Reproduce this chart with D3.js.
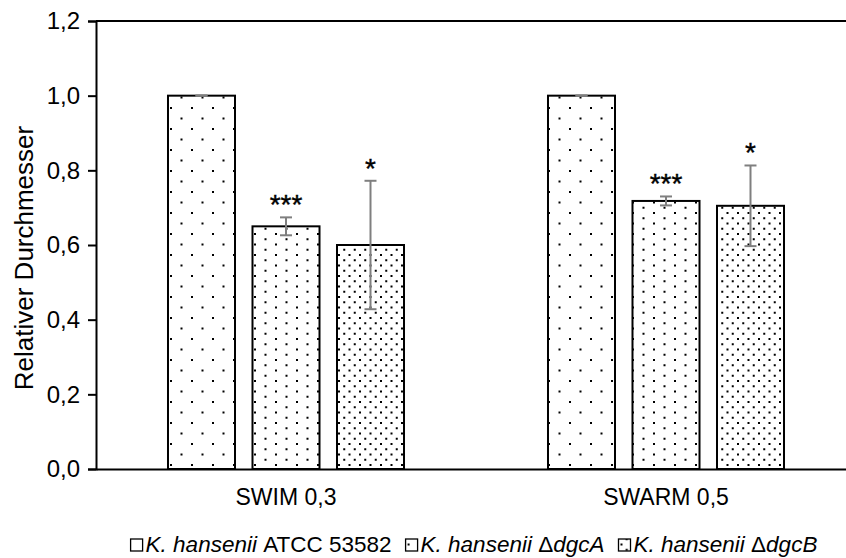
<!DOCTYPE html>
<html>
<head>
<meta charset="utf-8">
<script src="https://cdn.jsdelivr.net/npm/d3@7"></script>
<style>
  html, body { margin: 0; padding: 0; background: #fff; }
  svg { display: block; font-family: "Liberation Sans", Arial, sans-serif; }
</style>
</head>
<body>
<svg id="chart" width="846" height="558"></svg>
<script>
// Relative diameter of swim / swarm zones per strain
const categories = ["SWIM 0,3", "SWARM 0,5"];
const seriesNames = ["ATCC 53582", "ΔdgcA", "ΔdgcB"];
const wildType = [1.0, 1.0];
const dgcA = [0.65, 0.718];
const dgcB = [0.60, 0.705];
const errWildType = [0, 0];
const errDgcA = [0.024, 0.012];
const errDgcB = [0.172, 0.108];
const sigWildType = ["", ""];
const sigDgcA = ["***", "***"];
const sigDgcB = ["*", "*"];
const yTicks = [0, 0.2, 0.4, 0.6, 0.8, 1.0, 1.2];

const seriesValues = [wildType, dgcA, dgcB];
const seriesErr = [errWildType, errDgcA, errDgcB];
const seriesSig = [sigWildType, sigDgcA, sigDgcB];

const svg = d3.select("#chart");
const plotLeft = 96, plotRight = 856, plotTop = 21, plotBottom = 469;

const x0 = d3.scaleBand().domain(categories).range([plotLeft, plotRight]).padding(0);
const x1 = d3.scaleBand().domain(seriesNames).range([0, x0.bandwidth()])
  .paddingInner(0.207).paddingOuter(0.852);
const y = d3.scaleLinear().domain([0, 1.2]).range([plotBottom, plotTop]);

// Fill patterns: sparse, medium and dense dot grids
const defs = svg.append("defs");
const unit = 2.625;
const patternDots = {
  p0: [[0, 0], [4, 4]],
  p1: [[0, 0], [4, 2], [0, 4], [4, 6]],
  p2: [[0, 0], [4, 0], [2, 2], [6, 2], [0, 4], [4, 4], [2, 6], [6, 6]]
};
Object.entries(patternDots).forEach(([id, pts]) => {
  const p = defs.append("pattern").attr("id", id)
    .attr("patternUnits", "userSpaceOnUse")
    .attr("width", 8 * unit).attr("height", 8 * unit)
    .attr("x", 1).attr("y", 1);
  p.append("rect").attr("width", 8 * unit).attr("height", 8 * unit).attr("fill", "#fff");
  pts.forEach(([px, py]) => {
    p.append("rect").attr("x", px * unit + 1).attr("y", py * unit + 1)
      .attr("width", 2).attr("height", 2).attr("fill", "#000");
  });
});
const patternIds = ["p0", "p1", "p2"];

// Frame line along the top
svg.append("line").attr("x1", plotLeft).attr("x2", plotRight).attr("y1", plotTop).attr("y2", plotTop)
  .attr("stroke", "#000").attr("stroke-width", 2);

// Bars
const rows = [];
categories.forEach((c, ci) => {
  seriesNames.forEach((s, si) => {
    rows.push({ cat: c, s, si, v: seriesValues[si][ci], e: seriesErr[si][ci], sig: seriesSig[si][ci] });
  });
});

const g = svg.append("g");
g.selectAll("rect.bar").data(rows).join("rect").attr("class", "bar")
  .attr("x", d => x0(d.cat) + x1(d.s))
  .attr("y", d => y(d.v))
  .attr("width", x1.bandwidth())
  .attr("height", d => y(0) - y(d.v))
  .attr("fill", d => `url(#${patternIds[d.si]})`)
  .attr("stroke", "#000").attr("stroke-width", 2);

// Error bars
const cx = d => x0(d.cat) + x1(d.s) + x1.bandwidth() / 2;
const eb = g.selectAll("g.err").data(rows).join("g").attr("class", "err")
  .attr("stroke", "#7f7f7f").attr("stroke-width", 2);
eb.append("line").attr("x1", cx).attr("x2", cx)
  .attr("y1", d => y(d.v + d.e)).attr("y2", d => y(d.v - d.e));
eb.append("line").attr("x1", d => cx(d) - 6).attr("x2", d => cx(d) + 6)
  .attr("y1", d => y(d.v + d.e)).attr("y2", d => y(d.v + d.e));
eb.append("line").attr("x1", d => cx(d) - 6).attr("x2", d => cx(d) + 6)
  .attr("y1", d => y(d.v - d.e)).attr("y2", d => y(d.v - d.e));

// Significance marks
g.selectAll("text.sig").data(rows.filter(d => d.sig)).join("text").attr("class", "sig")
  .attr("x", cx).attr("y", d => y(d.v + d.e) - 3)
  .attr("text-anchor", "middle").attr("font-size", 28).attr("fill", "#000")
  .attr("stroke", "#000").attr("stroke-width", 0.4)
  .text(d => d.sig);

// Y axis
const yAxis = d3.axisLeft(y).tickValues(yTicks).tickSize(8).tickPadding(8)
  .tickFormat(d => d3.format(".1f")(d).replace(".", ","));
const ya = svg.append("g").attr("transform", `translate(${plotLeft},0)`).call(yAxis);
ya.select(".domain").attr("stroke", "#000").attr("stroke-width", 2);
ya.selectAll(".tick line").attr("stroke", "#000").attr("stroke-width", 2);
ya.selectAll(".tick text").attr("font-size", 24).attr("fill", "#000")
  .attr("font-family", "Liberation Sans, Arial, sans-serif");

// X axis
const xAxis = d3.axisBottom(x0).tickSize(0).tickPadding(20);
const xa = svg.append("g").attr("transform", `translate(0,${plotBottom})`).call(xAxis);
xa.select(".domain").attr("stroke", "#000").attr("stroke-width", 2);
xa.selectAll(".tick text").attr("font-size", 23).attr("fill", "#000")
  .attr("font-family", "Liberation Sans, Arial, sans-serif");

// Y axis title
svg.append("text").attr("transform", "translate(33,258) rotate(-90)")
  .attr("text-anchor", "middle").attr("font-size", 26).attr("fill", "#000")
  .text("Relativer Durchmesser");

// Legend
const legend = svg.append("g").attr("font-size", 22.5);
let lx = 0;
seriesNames.forEach((name, i) => {
  const item = legend.append("g");
  item.append("rect").attr("x", 0).attr("y", -13).attr("width", 12).attr("height", 12)
    .attr("fill", `url(#${patternIds[i]})`).attr("stroke", "#000").attr("stroke-width", 1.3);
  const t = item.append("text").attr("x", 15).attr("y", 0);
  t.append("tspan").attr("font-style", "italic").text("K. hansenii ");
  if (i === 0) {
    t.append("tspan").text(name);
  } else {
    t.append("tspan").text("Δ");
    t.append("tspan").attr("font-style", "italic").text(name.slice(1));
  }
  const w = 15 + t.node().getComputedTextLength();
  item.attr("transform", `translate(${lx},0)`);
  lx += w + 14;
});
const totalW = lx - 14;
legend.attr("transform", `translate(${474 - totalW / 2},552)`);
</script>
</body>
</html>
